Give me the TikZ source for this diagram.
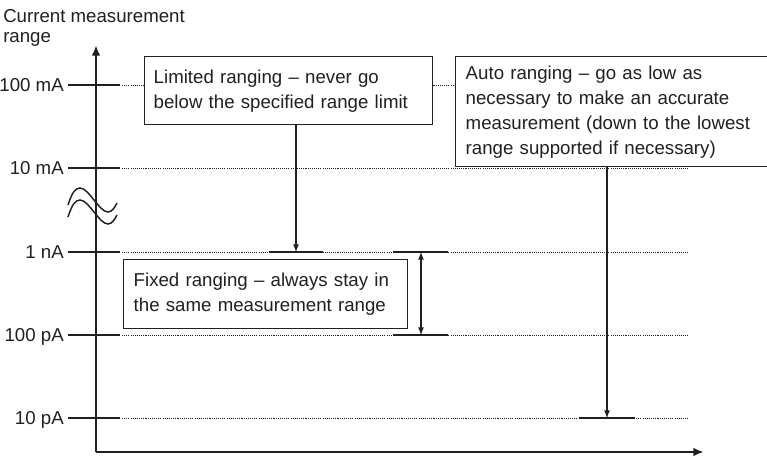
\documentclass[tikz,border=0pt]{standalone}
\usepackage{fontspec}
\setmainfont{Liberation Sans}
\usepackage{xcolor}
\usepackage{tikz}
\usetikzlibrary{arrows.meta}

\definecolor{ink}{HTML}{231F20}

\begin{document}
\begin{tikzpicture}[x=0.75pt,y=-0.75pt,
  txt/.style={font=\fontsize{14}{18.75}\selectfont, text=ink},
  lbl/.style={txt, inner sep=0pt},
  box/.style={txt, draw=ink, fill=white, line width=1.1pt, align=left, inner ysep=0pt},
  axisline/.style={draw=ink, line width=2pt, -{Latex[length=8pt,width=6.5pt]}},
  tick/.style={draw=ink, line width=2pt},
  level/.style={draw=ink, line width=2pt},
  dots/.style={draw=ink, line width=0.6pt, dash pattern=on 0.8pt off 0.8pt},
  pointer/.style={draw=ink, line width=1pt, >=latex, ->}]

\useasboundingbox (0,0) rectangle (767,457);

\node[lbl, anchor=north west, align=left, font=\fontsize{14}{15}\selectfont] (title) at (3,9.5) {Current measurement\\range};

% axes
\coordinate (origin) at (96,452);
\draw [axisline] (origin) -- (96,45);
\draw [axisline] (origin) -- (704,452);

% range levels
\coordinate (t1) at (68,85);
\coordinate (t2) at (68,168);
\coordinate (t3) at (68,252);
\coordinate (t4) at (68,335);
\coordinate (t5) at (68,418);

\node[lbl, anchor=base east] (l1) at ([xshift=-3pt, yshift=-4.5pt]t1) {100 mA};
\node[lbl, anchor=base east] (l2) at ([xshift=-3pt, yshift=-4.5pt]t2) {10 mA};
\node[lbl, anchor=base east] (l3) at ([xshift=-3pt, yshift=-4.5pt]t3) {1 nA};
\node[lbl, anchor=base east] (l4) at ([xshift=-3pt, yshift=-4.5pt]t4) {100 pA};
\node[lbl, anchor=base east] (l5) at ([xshift=-3pt, yshift=-4.5pt]t5) {10 pA};

\draw [tick] (t1) -- ++(52,0);
\draw [tick] (t2) -- ++(52,0);
\draw [tick] (t3) -- ++(52,0);
\draw [tick] (t4) -- ++(52,0);
\draw [tick] (t5) -- ++(52,0);

\draw [dots] (122,85) -- (688,85);
\draw [dots] (122,168) -- (688,168);
\draw [dots] (122,252) -- (688,252);
\draw [dots] (122,335) -- (688,335);
\draw [dots] (122,418) -- (688,418);

% axis break
\draw [ink, line width=1.1pt] (68,205) .. controls (72,193) and (75,188) .. (80,188)
  .. controls (89,188) and (99,212) .. (108,212) .. controls (112,212) and (115,207) .. (117,203);
\draw [ink, line width=1.1pt] (68,217) .. controls (72,205) and (75,200) .. (80,200)
  .. controls (89,200) and (99,224) .. (108,224) .. controls (112,224) and (115,219) .. (117,215);

% boxes
\node[box, anchor=north west, inner xsep=6.75pt, text width=202.5pt, minimum height=51pt] (limited) at (144,56)
  {Limited ranging -- never go\\below the specified range limit};
\node[box, anchor=north west, inner xsep=7.5pt, text width=228.75pt, minimum height=82.5pt] (auto) at (455,56)
  {Auto ranging -- go as low as\\necessary to make an accurate\\measurement (down to the lowest\\range supported if necessary)};
\node[box, anchor=north west, inner xsep=7.5pt, text width=198pt, minimum height=51.75pt] (fixed) at (123,259)
  {Fixed ranging -- always stay in\\the same measurement range};

% limited ranging
\coordinate (limL) at (269,252);
\coordinate (limM) at (296,252);
\coordinate (limR) at (323,252);
\draw [level] (limL) -- (limR);
\draw [pointer] (limited.south -| limM) -- (limM);

% fixed ranging
\coordinate (fixTopL) at (393,252);
\coordinate (fixTopR) at (448,252);
\coordinate (fixBotL) at (393,335);
\coordinate (fixBotR) at (448,335);
\draw [level] (fixTopL) -- (fixTopR);
\draw [level] (fixBotL) -- (fixBotR);
\draw [pointer, <->] (421,252) -- (421,335);

% auto ranging
\coordinate (autoL) at (579,418);
\coordinate (autoM) at (607,418);
\coordinate (autoR) at (635,418);
\draw [level] (autoL) -- (autoR);
\draw [pointer] (auto.south -| autoM) -- (autoM);

\end{tikzpicture}
\end{document}
